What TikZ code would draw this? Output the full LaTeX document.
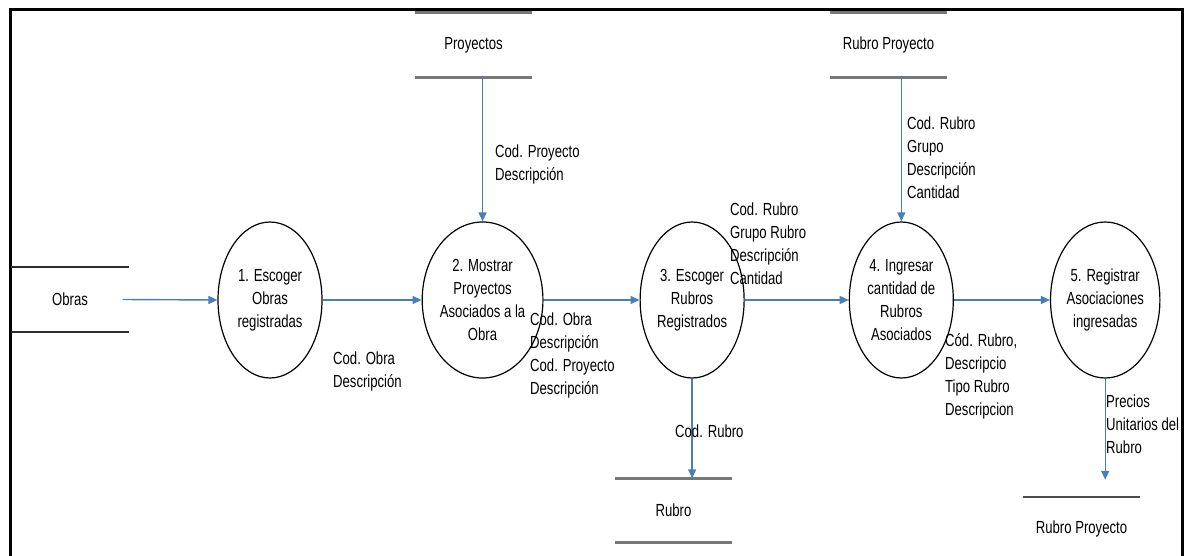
\documentclass[tikz,border=0pt]{standalone}
\usepackage{fontspec}
\setmainfont{Liberation Sans}[FakeStretch=0.75]
\usepackage{tikz}
\usetikzlibrary{
  arrows.meta,
  positioning,
  shapes.geometric,
}
\definecolor{flowblue}{RGB}{74,126,187}
\definecolor{storegray}{RGB}{120,120,120}
\definecolor{storedark}{RGB}{45,45,45}
\tikzstyle{flow} = [
  -{Triangle[length=9pt,width=8pt]},
  line width=1.4pt,
  flowblue,
]
\tikzstyle{process} = [ellipse,draw,line width=1.2pt,minimum width=104pt,minimum height=156pt,inner sep=0pt,align=center]
\tikzstyle{store} = [rectangle,minimum width=117pt,minimum height=64pt]
\tikzstyle{storeline} = [line width=3pt,storegray]
\tikzstyle{lbl} = [anchor=north west,inner sep=0pt,align=left]

\begin{document}
\begin{tikzpicture}[x=1pt,y=-1pt,node distance=0pt and 99pt,font=\fontsize{17.5}{23}\selectfont]

      \useasboundingbox (0,0) rectangle (1190,556);
      \draw[line width=3pt] (10,556) -- (10,10) -- (1182,10) -- (1182,556);

      \node[process] (p1) at (270,300) {1. Escoger\\Obras\\registradas};
      \node[process] (p2) [right=of p1] {2. Mostrar\\Proyectos\\Asociados a la\\Obra};
      \node[process] (p3) [right=96pt of p2] {3. Escoger\\Rubros\\Registrados};
      \node[process] (p4) [right=104pt of p3] {4. Ingresar\\cantidad de\\Rubros\\Asociados};
      \node[process] (p5) [right=96pt of p4] {5. Registrar\\Asociaciones\\ingresadas};

      \node[store] (obras) at (70,299.5) {Obras};
      \node[store] (proy)  at (473.5,45) {Proyectos};
      \node[store] (rp1)   at (888.5,45) {Rubro Proyecto};
      \node[store] (rubro) at (673.5,510.5) {Rubro};
      \node[store] (rp2)   at (1081.5,529) {Rubro Proyecto};

      \draw[line width=2pt,storedark] (obras.north west) -- (obras.north east);
      \draw[line width=2pt,storedark] (obras.south west) -- (obras.south east);
      \draw[storeline] (proy.north west) -- (proy.north east);
      \draw[storeline] (proy.south west) -- (proy.south east);
      \draw[storeline] (rp1.north west) -- (rp1.north east);
      \draw[storeline] (rp1.south west) -- (rp1.south east);
      \draw[storeline] (rubro.north west) -- (rubro.north east);
      \draw[storeline] (rubro.south west) -- (rubro.south east);
      \draw[line width=2.5pt,storedark!85] (rp2.north west) -- (rp2.north east);

      \draw[flow] ([xshift=-6pt]obras.east) -- (p1.west);
      \draw[flow] (p1.east) -- (p2.west);
      \draw[flow] (p2.east) -- (p3.west);
      \draw[flow] (p3.east) -- (p4.west);
      \draw[flow] (p4.east) -- (p5.west);
      \draw[flow] (p2 |- proy.south) -- (p2.north);
      \draw[flow] (p4 |- rp1.south) -- (p4.north);
      \draw[flow] (p3.south) -- (p3 |- rubro.north);
      \draw[flow,shorten >=17pt] (p5.south) -- (p5 |- rp2.north);

      \node[lbl] (l12)  at (333,352) {Cod. Obra\\Descripción};
      \node[lbl] (l23)  at (530,313) {Cod. Obra\\Descripción\\Cod. Proyecto\\Descripción};
      \node[lbl] (l34)  at (730,203) {Cod. Rubro\\Grupo Rubro\\Descripción\\Cantidad};
      \node[lbl] (l45)  at (945,333) {Cód. Rubro,\\Descripcio\\Tipo Rubro\\Descripcion};
      \node[lbl] (lp2)  at (495,145) {Cod. Proyecto\\Descripción};
      \node[lbl] (lp4)  at (907,117) {Cod. Rubro\\Grupo\\Descripción\\Cantidad};
      \node[lbl] (lrub) at (675,425) {Cod. Rubro};
      \node[lbl] (lp5)  at (1106,395) {Precios\\Unitarios del\\Rubro};

\end{tikzpicture}
\end{document}
